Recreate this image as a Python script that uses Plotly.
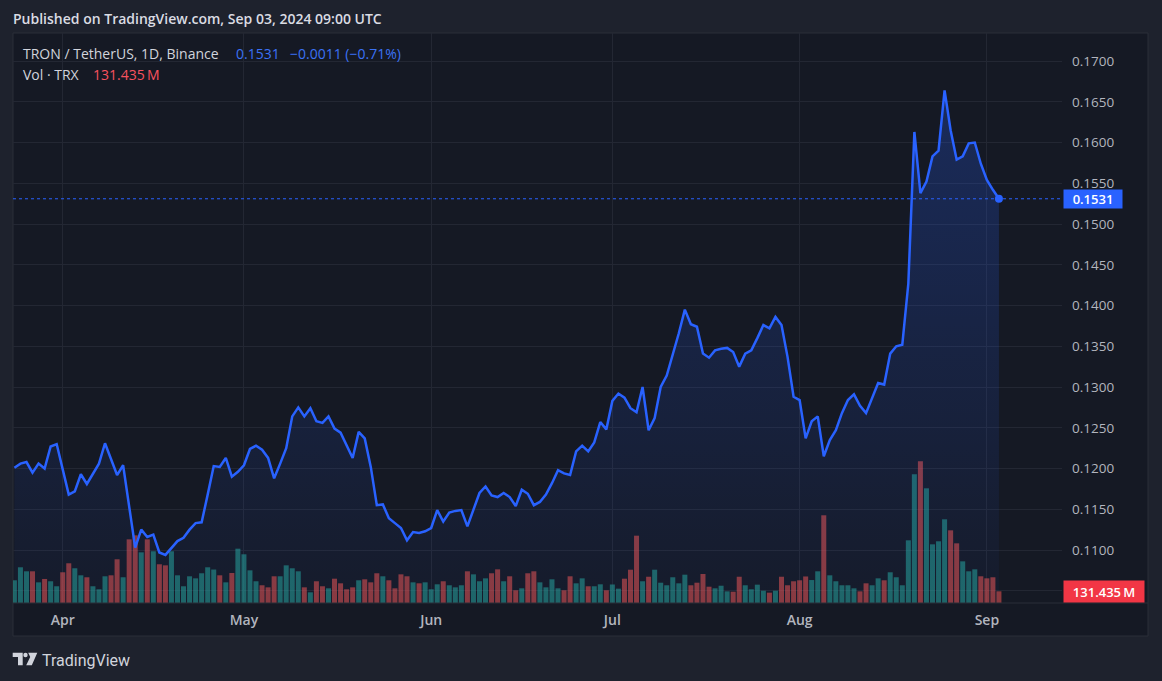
import pandas as pd
import plotly.graph_objects as go

# ---------------- data ----------------
start_date = "2024-03-24"
dates = pd.date_range(start_date, periods=164, freq="D")

close = [
    0.1201, 0.1206, 0.1208, 0.1195, 0.1206, 0.1200, 0.1227, 0.1230, 0.1199, 0.1168,
    0.1172, 0.1193, 0.1181, 0.1194, 0.1206, 0.1231, 0.1211, 0.1192, 0.1204, 0.1154,
    0.1103, 0.1125, 0.1116, 0.1119, 0.1097, 0.1094, 0.1102, 0.1111, 0.1115, 0.1125,
    0.1133, 0.1134, 0.1168, 0.1203, 0.1202, 0.1213, 0.1190, 0.1196, 0.1204, 0.1224,
    0.1228, 0.1223, 0.1213, 0.1188, 0.1206, 0.1225, 0.1264, 0.1275, 0.1264, 0.1274,
    0.1258, 0.1256, 0.1264, 0.1249, 0.1244, 0.1229, 0.1213, 0.1245, 0.1237, 0.1202,
    0.1155, 0.1156, 0.1139, 0.1133, 0.1127, 0.1112, 0.1122, 0.1121, 0.1123, 0.1127,
    0.1149, 0.1135, 0.1146, 0.1148, 0.1149, 0.1129, 0.1149, 0.1170, 0.1178, 0.1167,
    0.1165, 0.1170, 0.1165, 0.1154, 0.1174, 0.1169, 0.1155, 0.1159, 0.1168, 0.1182,
    0.1198, 0.1194, 0.1192, 0.1221, 0.1228, 0.1221, 0.1232, 0.1257, 0.1248, 0.1283,
    0.1292, 0.1287, 0.1274, 0.1269, 0.1300, 0.1247, 0.1262, 0.1300, 0.1314, 0.1339,
    0.1366, 0.1395, 0.1377, 0.1374, 0.1341, 0.1336, 0.1345, 0.1347, 0.1348, 0.1343,
    0.1325, 0.1341, 0.1345, 0.1360, 0.1376, 0.1372, 0.1386, 0.1376, 0.1337, 0.1288,
    0.1284, 0.1237, 0.1258, 0.1264, 0.1215, 0.1235, 0.1247, 0.1268, 0.1284, 0.1291,
    0.1277, 0.1268, 0.1286, 0.1305, 0.1303, 0.1341, 0.1350, 0.1352, 0.1427, 0.1613,
    0.1538, 0.1552, 0.1583, 0.1590, 0.1664, 0.1615, 0.1579, 0.1583, 0.1599, 0.1600,
    0.1574, 0.1554, 0.1542, 0.1531,
]

volume_m = [
    255, 401, 356, 356, 232, 270, 244, 188, 345, 446,
    390, 311, 289, 188, 154, 300, 311, 491, 289, 715,
    760, 569, 715, 581, 435, 423, 581, 311, 188, 300,
    277, 334, 401, 376, 311, 232, 337, 610, 547, 367,
    244, 199, 176, 300, 300, 423, 390, 356, 176, 120,
    244, 188, 165, 273, 221, 154, 176, 255, 266, 232,
    334, 300, 255, 165, 322, 300, 232, 221, 232, 154,
    210, 244, 199, 176, 199, 356, 322, 244, 277, 334,
    378, 244, 300, 143, 165, 334, 356, 232, 176, 266,
    165, 143, 300, 221, 277, 188, 188, 210, 143, 208,
    161, 273, 374, 756, 244, 295, 374, 228, 199, 289,
    221, 318, 199, 228, 326, 183, 165, 194, 131, 127,
    295, 199, 154, 206, 138, 116, 138, 295, 199, 244,
    255, 298, 258, 356, 985, 311, 244, 199, 199, 165,
    131, 221, 199, 277, 255, 345, 289, 199, 704, 1445,
    1591, 1288, 659, 693, 940, 816, 670, 468, 356, 378,
    300, 277, 289, 131.435,
]

price_ticks = [0.105, 0.110, 0.115, 0.120, 0.125, 0.130, 0.135, 0.140,
               0.145, 0.150, 0.155, 0.160, 0.165, 0.170]
# 0.1050 label sits behind the volume label in the reference, so its text is left blank
price_tick_text = [""] + [f"{v:.4f}" for v in price_ticks[1:]]
month_ticks = ["2024-04-01", "2024-05-01", "2024-06-01", "2024-07-01",
               "2024-08-01", "2024-09-01"]
month_labels = ["Apr", "May", "Jun", "Jul", "Aug", "Sep"]

symbol_text = "TRON / TetherUS, 1D, Binance"
last_text = "0.1531"
change_text = "\u22120.0011 (\u22120.71%)"
vol_name = "Vol \u00b7 TRX"
vol_text = "131.435\u2009M"
header_text = "Published on TradingView.com, Sep 03, 2024 09:00 UTC"

# ---------------- styling ----------------
W, H = 1162, 681
L, R, T, B = 13, 1062, 33, 603
PW, PH = R - L, B - T

def px(x):
    return (x - L) / PW

def py(y):
    return (B - y) / PH

BLUE = "#2962ff"
UP = "rgba(38,166,154,0.55)"
DOWN = "rgba(239,83,80,0.55)"
GRID = "#232733"
TXT = "#d1d4dc"
AX = "#b2b5be"
FONT = "Open Sans"

colors = [UP] + [UP if close[i] >= close[i - 1] else DOWN for i in range(1, len(close))]

fig = go.Figure()

fig.add_trace(go.Bar(
    x=dates, y=volume_m, marker=dict(color=colors, line=dict(width=0)),
    yaxis="y", hoverinfo="skip"))

fig.add_trace(go.Scatter(
    x=dates, y=close, mode="lines", yaxis="y2",
    line=dict(color=BLUE, width=2.5),
    fill="tozeroy",
    fillgradient=dict(type="vertical", start=0.1035, stop=0.1664,
                      colorscale=[[0, "rgba(41,98,255,0.03)"],
                                  [1, "rgba(41,98,255,0.25)"]]),
    hoverinfo="skip"))

fig.add_trace(go.Scatter(
    x=[dates[-1]], y=[close[-1]], mode="markers", yaxis="y2",
    marker=dict(color=BLUE, size=8), hoverinfo="skip"))

shapes = [
    # chart frame
    dict(type="rect", xref="paper", yref="paper", x0=px(13), x1=px(1148),
         y0=py(636), y1=py(33), fillcolor="#151924",
         line=dict(color="#2a2e39", width=1), layer="below"),
    # time axis separator
    dict(type="line", xref="paper", yref="paper", x0=px(13), x1=px(1148),
         y0=0, y1=0, line=dict(color="#2a2e39", width=1)),
    # last-price dotted line
    dict(type="line", xref="paper", yref="y2", x0=0, x1=1,
         y0=close[-1], y1=close[-1], line=dict(color=BLUE, width=1, dash="dot")),
    # TradingView logo
    dict(type="path", xref="paper", yref="paper",
         path=f"M {px(12.7)},{py(652.7)} L {px(22.7)},{py(652.7)} L {px(22.7)},{py(665.3)} "
              f"L {px(18)},{py(665.3)} L {px(18)},{py(657)} L {px(12.7)},{py(657)} Z",
         fillcolor=TXT, line=dict(width=0)),
    dict(type="circle", xref="paper", yref="paper",
         x0=px(23.3), x1=px(27.7), y0=py(657.2), y1=py(652.8),
         fillcolor=TXT, line=dict(width=0)),
    dict(type="path", xref="paper", yref="paper",
         path=f"M {px(28.2)},{py(652.7)} L {px(37.3)},{py(652.7)} L {px(31.8)},{py(665.3)} "
              f"L {px(26.2)},{py(665.3)} L {px(30.2)},{py(657)} Z",
         fillcolor=TXT, line=dict(width=0)),
]

def ann(text, x, y, color=TXT, size=13, weight=400, family=FONT, **kw):
    return dict(text=text, x=px(x), y=py(y), xref="paper", yref="paper",
                xanchor="left", yanchor="middle", showarrow=False,
                font=dict(family=family, size=size, color=color, weight=weight), **kw)

annotations = [
    ann(header_text, 11, 19, color="#dadce3", size=14, weight=600),
    ann(symbol_text, 21, 53, size=14),
    ann(last_text, 234, 53, color="#3b72f5", size=14),
    ann(change_text, 288, 53, color="#3b72f5", size=14),
    ann(vol_name, 21, 74, size=14),
    ann(vol_text, 91, 74, color="#f7525f", size=14),
    ann("TradingView", 40, 660, color=TXT, size=16, family="Roboto"),
    dict(text=last_text, x=px(1063), y=close[-1], xref="paper", yref="y2",
         xanchor="left", yanchor="middle", showarrow=False,
         bgcolor=BLUE, width=56, height=16, borderpad=1,
         font=dict(family=FONT, size=13, color="#ffffff", weight=600)),
    dict(text=vol_text, x=px(1063), y=volume_m[-1], xref="paper", yref="y",
         xanchor="left", yanchor="middle", showarrow=False,
         bgcolor="#f23645", width=78, height=19, borderpad=1,
         font=dict(family=FONT, size=13, color="#ffffff", weight=600)),
]

fig.update_layout(
    width=W, height=H,
    margin=dict(l=L, r=W - R, t=T, b=H - B, pad=0),
    paper_bgcolor="#1e222d",
    plot_bgcolor="rgba(0,0,0,0)",
    showlegend=False,
    bargap=0.17,
    font=dict(family=FONT, color=AX, size=13),
    xaxis=dict(
        type="date",
        range=["2024-03-23 18:26", "2024-09-13 10:34"],
        tickvals=month_ticks, ticktext=month_labels,
        showgrid=True, gridcolor=GRID, gridwidth=1,
        zeroline=False, showline=False, ticks="",
        ticklabelstandoff=7,
        tickfont=dict(family=FONT, size=14, color=AX, weight=600),
    ),
    yaxis=dict(
        range=[0, PH * 11.23],
        visible=False, showgrid=False, zeroline=False,
    ),
    yaxis2=dict(
        overlaying="y", side="right",
        range=[0.10350, 0.17344],
        tickvals=price_ticks, ticktext=price_tick_text,
        showgrid=True, gridcolor=GRID, gridwidth=1,
        zeroline=False, showline=False, ticks="",
        ticklabelstandoff=9,
        tickfont=dict(family=FONT, size=13.5, color=AX),
    ),
    shapes=shapes,
    annotations=annotations,
)

fig.write_html(
    "out.html",
    config={"displayModeBar": False},
    post_script="document.body.style.margin='0';document.body.style.overflow='hidden';",
)
